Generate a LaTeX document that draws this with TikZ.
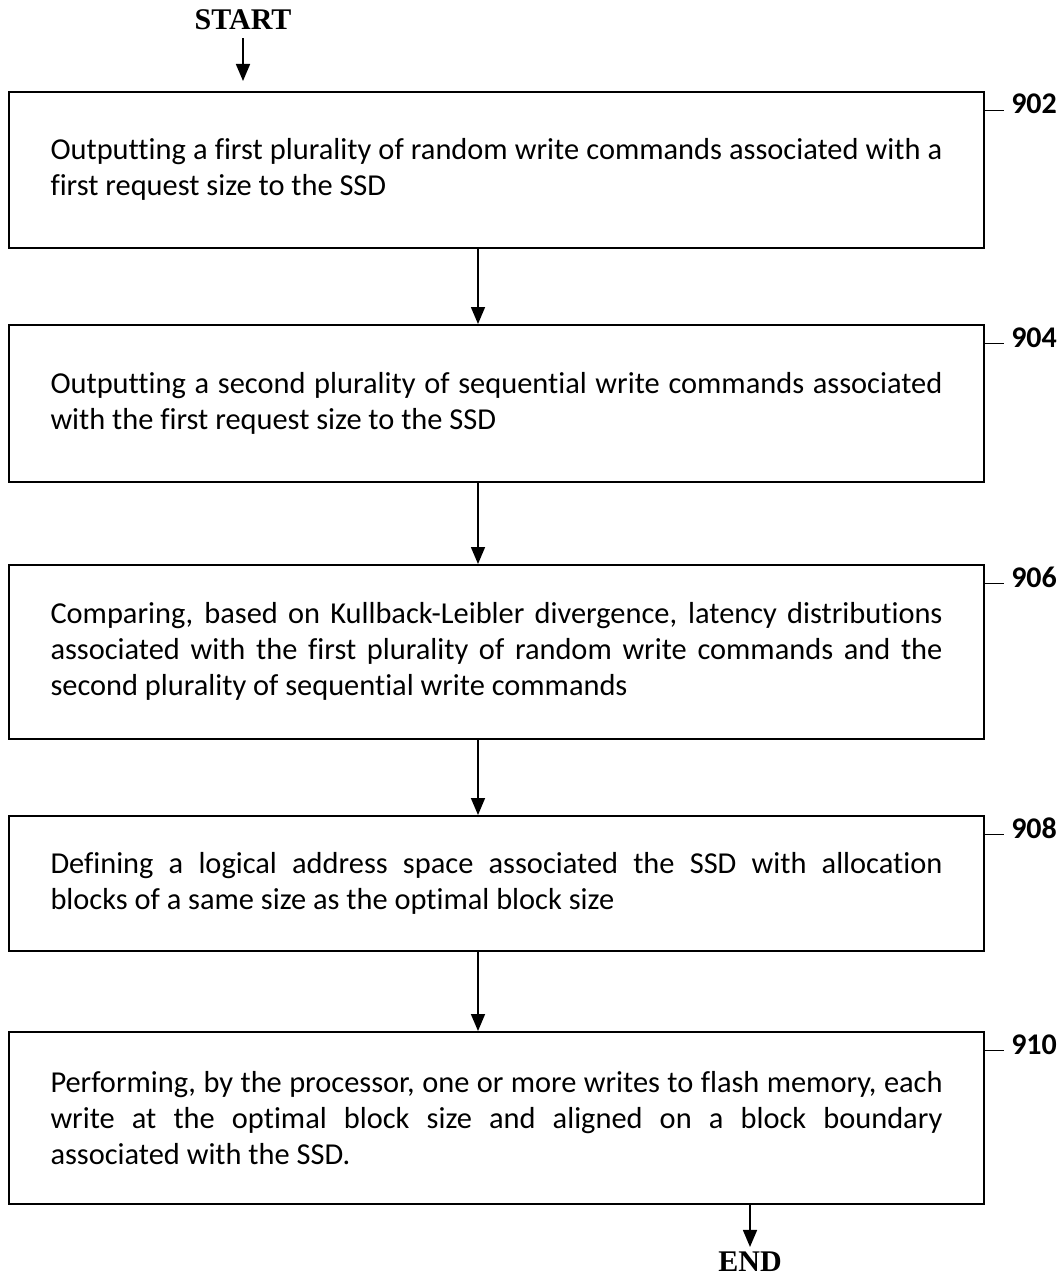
\documentclass[tikz,border=0pt]{standalone}
\usepackage{fontspec}
\setmainfont{Carlito}[Ligatures=NoCommon]
\newfontfamily\timesb{Liberation Serif}
\usetikzlibrary{arrows.meta}
\newcommand\nohyph{\hyphenpenalty=10000\relax\exhyphenpenalty=10000\relax}
\begin{document}
\begin{tikzpicture}[x=1pt,y=-1pt,
  stepbox/.style={draw, line width=1.6pt, minimum width=975pt, text width=892pt,
    inner xsep=41.5pt, inner ysep=0pt, align=justify, anchor=north,
    font=\fontsize{30.4}{36}\selectfont\nohyph},
  flow/.style={line width=1.6pt, -{Triangle[length=17pt,width=14pt]}},
  leader/.style={line width=0.9pt},
  lbl/.style={font=\fontsize{30}{32}\selectfont\bfseries, anchor=base west, inner sep=0pt},
  term/.style={font=\timesb\fontsize{30}{32}\selectfont\bfseries, inner sep=0pt}]
\useasboundingbox (0,0) rectangle (1064,1276);

\node[stepbox, minimum height=156pt] (b1) at (496.5,91)
  {Outputting a first plurality of random write commands associated with a\linebreak first request size to the SSD};
\node[stepbox, minimum height=157pt] (b2) at (496.5,324)
  {Outputting a second plurality of sequential write commands associated\linebreak with the first request size to the SSD};
\node[stepbox, minimum height=174pt] (b3) at (496.5,564)
  {Comparing, based on Kullback-Leibler divergence, latency distributions\linebreak associated with the first plurality of random write commands and the\linebreak second plurality of sequential write commands};
\node[stepbox, minimum height=135pt] (b4) at (496.5,815)
  {Defining a logical address space associated the SSD with allocation\linebreak blocks of a same size as the optimal block size};
\node[stepbox, minimum height=172pt] (b5) at (496.5,1031)
  {Performing, by the processor, one or more writes to flash memory, each\linebreak write at the optimal block size and aligned on a block boundary\linebreak associated with the SSD.};

\node[term] (startn) at (243,20) {START};
\node[term] (endn) at (750,1262) {END};

\draw[flow, shorten <=8pt, shorten >=10pt] (startn.south) -- (startn.south |- b1.north);
\draw[flow] ([xshift=-18.5pt]b1.south) -- ([xshift=-18.5pt]b2.north);
\draw[flow] ([xshift=-18.5pt]b2.south) -- ([xshift=-18.5pt]b3.north);
\draw[flow] ([xshift=-18.5pt]b3.south) -- ([xshift=-18.5pt]b4.north);
\draw[flow] ([xshift=-18.5pt]b4.south) -- ([xshift=-18.5pt]b5.north);
\draw[flow, shorten >=5pt] (b5.south -| endn.north) -- (endn.north);

\foreach \b/\t in {b1/902,b2/904,b3/906,b4/908,b5/910}{
  \draw[leader] ([yshift=-19pt]\b.north east) -- ++(19,0)
    node[lbl, xshift=7pt, yshift=-4pt] {\t};
}
\end{tikzpicture}
\end{document}
